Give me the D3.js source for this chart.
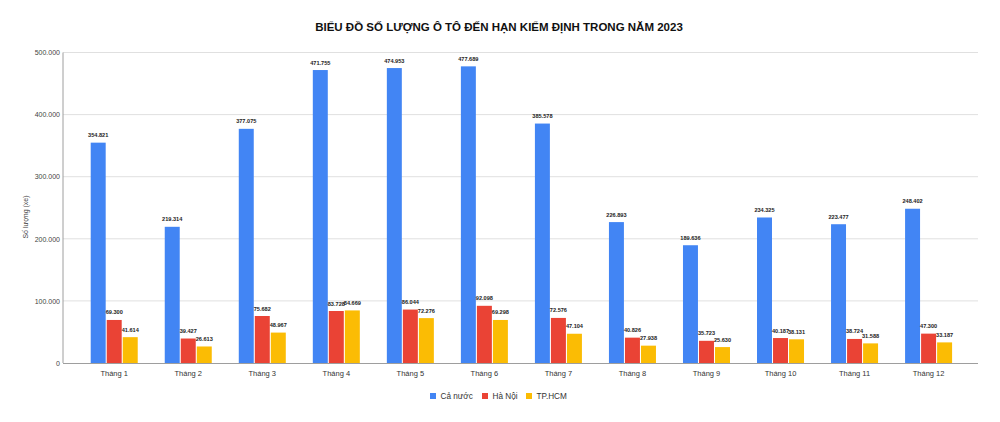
<!DOCTYPE html>
<html><head><meta charset="utf-8">
<script src="https://cdn.jsdelivr.net/npm/d3@7"></script>
<style>body{margin:0;background:#fff}svg{display:block;font-family:"Liberation Sans",Arial,sans-serif}</style>
</head><body><svg id="c" width="1000" height="422"></svg>
<script>
const months = ["Tháng 1","Tháng 2","Tháng 3","Tháng 4","Tháng 5","Tháng 6","Tháng 7","Tháng 8","Tháng 9","Tháng 10","Tháng 11","Tháng 12"];
const seriesNames = ["Cả nước","Hà Nội","TP.HCM"];
const caNuoc = [354821,219314,377075,471755,474953,477689,385578,226893,189636,234325,223477,248402];
const haNoi = [69300,39427,75682,83728,86044,92098,72576,40826,35723,40187,38724,47300];
const tpHCM = [41614,26613,48967,84669,72276,69298,47104,27938,25630,38131,31588,33187];
const yTicks = [0,100000,200000,300000,400000,500000];
const colors = ["#4285F4","#EA4335","#FBBC04"];
const title = "BIỂU ĐỒ SỐ LƯỢNG Ô TÔ ĐẾN HẠN KIỂM ĐỊNH TRONG NĂM 2023";
const yTitle = "Số lượng (xe)";

const svg = d3.select("#c");
const fmt = v => d3.format(",")(v).replace(/,/g, ".");
const plotL = 63, plotR = 978, plotT = 52.5, plotB = 363;
const y = d3.scaleLinear().domain([0,500000]).range([plotB, plotT]);
const x = d3.scaleBand().domain(months).range([77.2, 965.6]).paddingInner(0.365).paddingOuter(0.1825);
const xs = d3.scaleBand().domain(seriesNames).range([0, x.bandwidth()]).paddingInner(0.065);
const data = [caNuoc, haNoi, tpHCM];

// grid
svg.append("g").selectAll("line").data(yTicks.filter(d=>d>0)).join("line")
  .attr("x1", plotL).attr("x2", plotR).attr("y1", d=>y(d)).attr("y2", d=>y(d))
  .attr("stroke", "#e0e0e0").attr("stroke-width", 1);

// y axis labels
const yAxis = d3.axisLeft(y).tickValues(yTicks).tickSize(0).tickPadding(3).tickFormat(fmt);
const ga = svg.append("g").attr("transform", `translate(${plotL},0)`).call(yAxis);
ga.select(".domain").remove();
ga.selectAll("text").attr("font-size", 7).attr("fill", "#444").attr("font-family", "Liberation Sans, Arial, sans-serif");

// bars
seriesNames.forEach((s, si) => {
  const g = svg.append("g");
  g.selectAll("rect").data(data[si]).join("rect")
    .attr("x", (d,i)=>x(months[i]) + xs(s))
    .attr("width", xs.bandwidth())
    .attr("y", d=>y(d)).attr("height", d=>plotB - y(d))
    .attr("fill", colors[si]);
  g.selectAll("text").data(data[si]).join("text")
    .attr("x", (d,i)=>x(months[i]) + xs(s) + xs.bandwidth()/2)
    .attr("y", d=>y(d) - 5.5)
    .attr("text-anchor", "middle").attr("font-size", 5.6).attr("font-weight", "bold").attr("fill", "#222")
    .text(fmt);
});

// axis lines
svg.append("line").attr("x1", plotL).attr("x2", plotL).attr("y1", plotT).attr("y2", plotB).attr("stroke", "#9e9e9e");
svg.append("line").attr("x1", plotL).attr("x2", plotR).attr("y1", plotB+0.5).attr("y2", plotB+0.5).attr("stroke", "#9e9e9e");

// x labels
const xAxis = d3.axisBottom(x).tickSize(0).tickPadding(8);
const gx = svg.append("g").attr("transform", `translate(0,${plotB})`).call(xAxis);
gx.select(".domain").remove();
gx.selectAll("text").attr("font-size", 7.5).attr("fill", "#333").attr("font-family", "Liberation Sans, Arial, sans-serif");

// title
svg.append("text").attr("x", 499).attr("y", 31).attr("text-anchor", "middle")
  .attr("font-size", 11.5).attr("font-weight", "bold").attr("fill", "#111").text(title);

// y title
svg.append("text").attr("transform", "translate(28,217) rotate(-90)").attr("text-anchor", "middle")
  .attr("font-size", 7).attr("fill", "#444").text(yTitle);

// legend
const lg = svg.append("g");
const legX = [430, 482, 526];
seriesNames.forEach((s, i) => {
  lg.append("rect").attr("x", legX[i]).attr("y", 393).attr("width", 6).attr("height", 6).attr("fill", colors[i]);
  lg.append("text").attr("x", legX[i] + 10.5).attr("y", 399).attr("font-size", 8.2).attr("fill", "#333").text(s);
});
</script></body></html>
